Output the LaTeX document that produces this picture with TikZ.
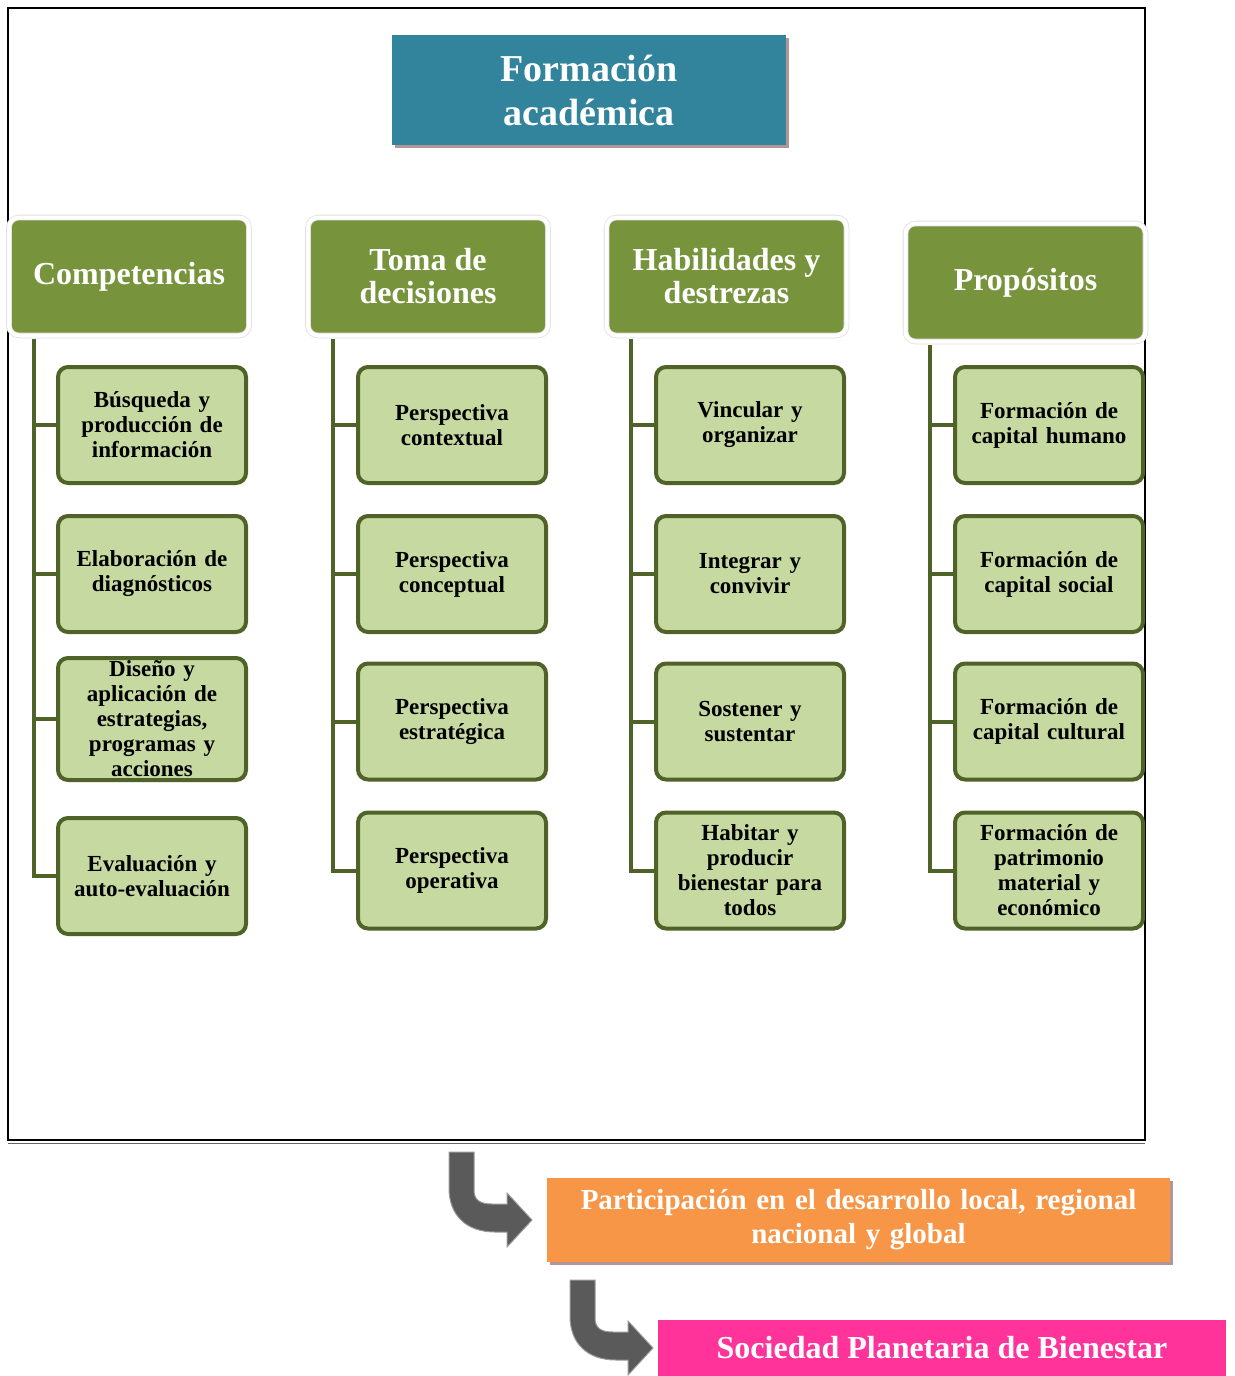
\documentclass[tikz,border=0pt]{standalone}
\usepackage{fontspec}
\setmainfont{Liberation Serif}
\usetikzlibrary{shadows}

\definecolor{titleteal}{HTML}{31849B}
\definecolor{shadowrose}{HTML}{B39595}
\definecolor{hdgreen}{HTML}{77933C}
\definecolor{childgreen}{HTML}{C6D9A0}
\definecolor{treegreen}{HTML}{4F6228}
\definecolor{boxorange}{HTML}{F79646}
\definecolor{boxpink}{HTML}{FF3399}
\definecolor{arrowgray}{HTML}{5A5A5A}

\tikzset{
  titlebox/.style={fill=titleteal, text=white, align=center, minimum width=197pt, minimum height=55pt,
    font=\fontsize{19}{22}\selectfont\bfseries,
    drop shadow={shadow xshift=1.5pt, shadow yshift=-1.5pt, fill=shadowrose, opacity=1}},
  header/.style={fill=hdgreen, text=white, align=center, rounded corners=5pt, minimum width=120pt,
    minimum height=59pt, draw=black!12, double=white, double distance=2pt,
    font=\fontsize{16}{16.5}\selectfont\bfseries},
  leaf/.style={fill=childgreen, draw=treegreen, line width=2pt, rounded corners=5pt, align=center,
    text width=90pt, minimum width=94pt, inner sep=1pt, font=\fontsize{11.5}{12.5}\selectfont\bfseries},
  tree/.style={draw=treegreen, line width=2pt},
  resultbox/.style={text=white, align=center, font=\bfseries}
}

\begin{document}
\begin{tikzpicture}[x=0.5pt, y=-0.5pt]

      \useasboundingbox (0,0) rectangle (1235,1376);
      \draw[line width=1pt] (8,8) rectangle (1145,1140); % frame
      \draw[black!60, line width=0.5pt] (8,1143) -- (1145,1143);

      \node[titlebox] (title) at (589,90) {Formación\\académica};

      \node[header] (h1) at (129,276.5) {Competencias};
      \node[header] (h2) at (428,276.5) {Toma de\\decisiones};
      \node[header] (h3) at (726.5,276.5) {Habilidades y\\destrezas};
      \node[header] (h4) at (1025.5,282.5) {Propósitos};

      % first column
      \foreach \n/\y/\h/\t in {1/425/58/{Búsqueda y\\producción de\\información},
                              2/574/58/{Elaboración de\\diagnósticos},
                              3/719/61/{Diseño y\\aplicación de\\estrategias,\\programas y\\acciones},
                              4/876/58/{Evaluación y\\auto-evaluación}} {
          \node[leaf, minimum height=\h pt] (c1\n) at (152,\y) {\t};
      }

      \foreach \n/\y/\t in {1/425/{Perspectiva\\contextual}, 2/574/{Perspectiva\\conceptual},
                           3/721.5/{Perspectiva\\estratégica}, 4/870.5/{Perspectiva\\operativa}} {
          \node[leaf, minimum height=58pt] (c2\n) at (452,\y) {\t};
      }

      \foreach \n/\y/\t in {1/425/{Vincular y\\organizar}, 2/574/{Integrar y\\convivir},
                           3/721.5/{Sostener y\\sustentar}, 4/870.5/{Habitar y\\producir\\bienestar para\\todos}} {
          \node[leaf, minimum height=58pt] (c3\n) at (750,\y) {\t};
      }

      \foreach \n/\y/\t in {1/425/{Formación de\\capital humano}, 2/574/{Formación de\\capital social},
                           3/721.5/{Formación de\\capital cultural}, 4/870.5/{Formación de\\patrimonio\\material y\\económico}} {
          \node[leaf, minimum height=58pt] (c4\n) at (1049,\y) {\t};
      }

      % tree lines
      \foreach \c in {1,2,3,4} {
          \foreach \n in {1,2,3,4} {
              \draw[tree] ([xshift=12.5pt, yshift=-1.5pt]h\c.south west) |- (c\c\n.west);
          }
      }

      \node[resultbox, fill=boxorange, minimum width=311.5pt, minimum height=42pt, text width=305pt,
            font=\fontsize{14.5}{17}\selectfont\bfseries,
            drop shadow={shadow xshift=1.5pt, shadow yshift=-1.5pt, fill=shadowrose, opacity=1}]
            (part) at (858.5,1220) {Participación en el desarrollo local, regional\\nacional y global};
      \node[resultbox, fill=boxpink, minimum width=284pt, minimum height=28pt,
            font=\fontsize{16}{18}\selectfont\bfseries] (soc) at (942,1348) {Sociedad Planetaria de Bienestar};

      % bent arrows
      \foreach \dx/\dy in {0/0, 121/128} {
          \filldraw[shift={(\dx,\dy)}, fill=arrowgray, draw=black!40, line width=0.5pt]
              (449,1152) -- (474,1152) -- (474,1190) .. controls (474,1200) and (480,1204) .. (492,1204)
              -- (507,1204) -- (507,1193) -- (532,1220) -- (507,1247) -- (507,1232) -- (495,1232)
              .. controls (466,1232) and (449,1215) .. (449,1188) -- cycle;
      }

\end{tikzpicture}
\end{document}
